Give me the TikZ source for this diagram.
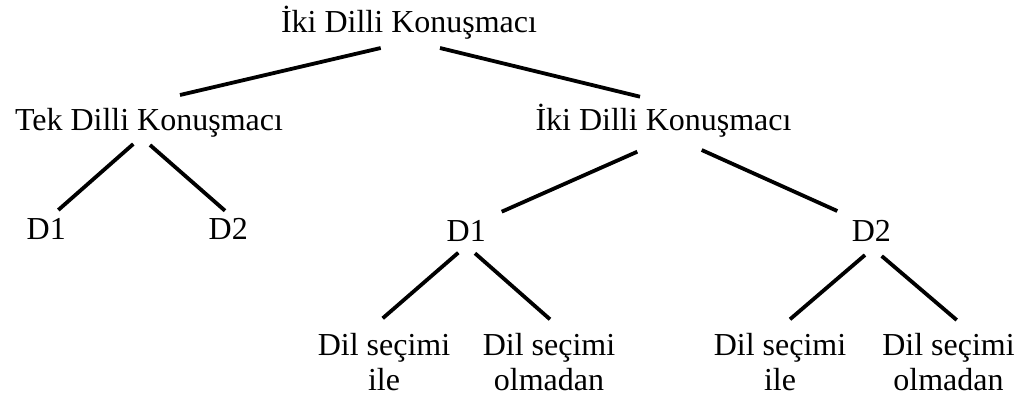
\documentclass[tikz,border=0pt]{standalone}
\usepackage{fontspec}
\setmainfont{Liberation Serif}
\begin{document}
\begin{tikzpicture}[x=1pt,y=-1pt,
  lbl/.style={inner sep=0pt,outer sep=0pt,anchor=base,font=\fontsize{32}{35}\selectfont},
  leaf/.style={lbl,align=center},
  edge/.style={line width=3.8pt,black}]
\useasboundingbox[fill=white] (0,0) rectangle (1021,400);
% nodes
\node[lbl] (top) at (409,32) {İki Dilli Konuşmacı};
\node[lbl] (tek) at (149,130) {Tek Dilli Konuşmacı};
\node[lbl] (iki) at (663.5,130) {İki Dilli Konuşmacı};
\node[lbl] (d1a) at (46.3,239.5) {D1};
\node[lbl] (d2a) at (228.3,239.5) {D2};
\node[lbl] (d1b) at (466.3,241.7) {D1};
\node[lbl] (d2b) at (871.3,241.7) {D2};
% base anchor of a two-line node is the baseline of its last line
\node[leaf] (l1) at (384,390) {Dil seçimi\\ile};
\node[leaf] (l2) at (549,390) {Dil seçimi\\olmadan};
\node[leaf] (l3) at (780,390) {Dil seçimi\\ile};
\node[leaf] (l4) at (948.5,390) {Dil seçimi\\olmadan};
% connectors
\draw[edge] ([shift={(-28.3,16)}]top.base) -- ([shift={(31,-35)}]tek.base);
\draw[edge] ([shift={(31,16)}]top.base) -- ([shift={(-23.5,-33.3)}]iki.base);
\draw[edge] ([shift={(-15.7,14)}]tek.base) -- ([shift={(12,-29.5)}]d1a.base);
\draw[edge] ([shift={(1,15)}]tek.base) -- ([shift={(-3.3,-28.8)}]d2a.base);
\draw[edge] ([shift={(-26.2,21.7)}]iki.base) -- ([shift={(35.4,-30)}]d1b.base);
\draw[edge] ([shift={(38.2,20)}]iki.base) -- ([shift={(-34,-30.7)}]d2b.base);
\draw[edge] ([shift={(-8,11)}]d1b.base) -- ([shift={(-1.3,-71.7)}]l1.base);
\draw[edge] ([shift={(8.7,11.6)}]d1b.base) -- ([shift={(1,-70.7)}]l2.base);
\draw[edge] ([shift={(-6.3,13.3)}]d2b.base) -- ([shift={(10,-70.7)}]l3.base);
\draw[edge] ([shift={(10.4,14.3)}]d2b.base) -- ([shift={(8.2,-70)}]l4.base);
\end{tikzpicture}
\end{document}
